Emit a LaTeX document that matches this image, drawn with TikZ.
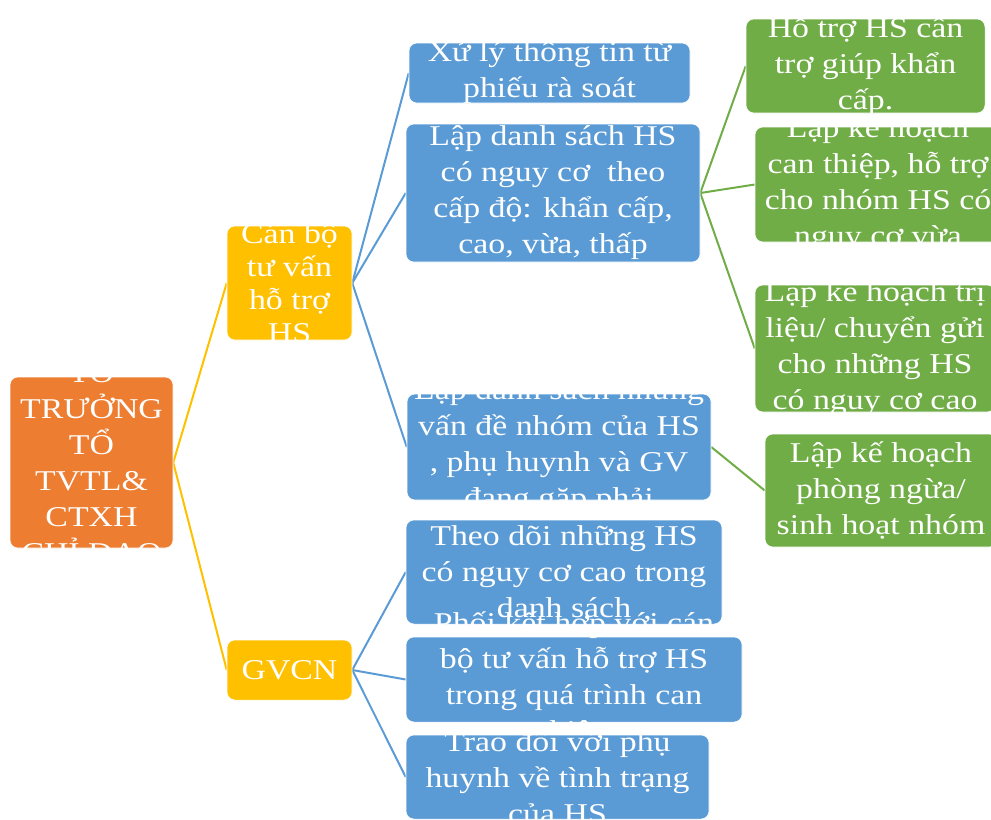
\documentclass[tikz,border=0pt]{standalone}
\usepackage{fontspec}
\setmainfont{Liberation Serif}[FakeStretch=1.18]
\usetikzlibrary{backgrounds}
\definecolor{RootOrange}{HTML}{ED7D31}
\definecolor{LeadGold}{HTML}{FFC000}
\definecolor{TaskBlue}{HTML}{5B9BD5}
\definecolor{PlanGreen}{HTML}{70AD47}

\begin{document}
\begin{tikzpicture}[
    x=0.75pt, y=-0.75pt,
    box/.style={draw=white, line width=0.4pt, rounded corners=6pt, inner sep=0pt},
    rootbox/.style={box, fill=RootOrange},
    leadbox/.style={box, fill=LeadGold},
    taskbox/.style={box, fill=TaskBlue},
    planbox/.style={box, fill=PlanGreen},
    boxtext/.style={text=white, align=center, inner sep=0pt, font=\fontsize{21.5pt}{27pt}\selectfont},
    link/.style={line width=1.5pt}
  ]
  \useasboundingbox (0,0) rectangle (991,819);

  % To truong (trai)
  \node[rootbox, minimum width=122.25pt, minimum height=128.25pt] (root) at (91.5,462.5) {};
  \node[boxtext] (root-t) at (root) {TỔ\\TRƯỞNG\\TỔ\\TVTL\&\\CTXH\\CHỈ ĐẠO};

  % Can bo tu van / GVCN
  \node[leadbox, minimum width=93.75pt, minimum height=85.5pt] (cb) at (289.5,283) {};
  \node[boxtext, font=\fontsize{21.5pt}{24.75pt}\selectfont] (cb-t) at (cb) {Cán bộ\\tư vấn\\hỗ trợ\\HS};
  \node[leadbox, minimum width=93.75pt, minimum height=45pt] (gv) at (289.5,670) {};
  \node[boxtext] (gv-t) at (gv) {GVCN};

  % Viec cua can bo tu van
  \node[taskbox, minimum width=210.75pt, minimum height=45pt] (xl) at (549.5,73) {};
  \node[boxtext] (xl-t) at (xl) {Xử lý thông tin từ\\phiếu rà soát};
  \node[taskbox, minimum width=220.5pt, minimum height=103.5pt] (lds) at (553,193) {};
  \node[boxtext] (lds-t) at (lds) {Lập danh sách HS\\có nguy cơ~ theo\\cấp độ: khẩn cấp,\\cao, vừa, thấp};
  \node[taskbox, minimum width=228pt, minimum height=79.5pt] (ldn) at (559,447) {};
  \node[boxtext] (ldn-t) at (ldn) {Lập danh sách những\\vấn đề nhóm của HS\\, phụ huynh và GV\\đang gặp phải};

  % Viec cua GVCN
  \node[taskbox, minimum width=237pt, minimum height=78pt] (td) at (564,572) {};
  \node[boxtext] (td-t) at (td) {Theo dõi những HS\\có nguy cơ cao trong\\danh sách};
  \node[taskbox, minimum width=252pt, minimum height=63.75pt] (ph) at (574,679.5) {};
  \node[boxtext] (ph-t) at (ph) {Phối kết hợp với cán\\bộ tư vấn hỗ trợ HS\\trong quá trình can\\thiệp};
  \node[taskbox, minimum width=227.25pt, minimum height=63pt] (tr) at (557.5,777) {};
  \node[boxtext] (tr-t) at (tr) {Trao đổi với phụ\\huynh về tình trạng\\của HS};

  % Ke hoach (phai)
  \node[planbox, minimum width=179.25pt, minimum height=70.5pt] (ht) at (865.5,66) {};
  \node[boxtext] (ht-t) at (ht) {Hỗ trợ HS cần\\trợ giúp khẩn\\cấp.};
  \node[planbox, minimum width=184.5pt, minimum height=86.25pt] (ct) at (878,184.5) {};
  \node[boxtext] (ct-t) at (ct) {Lập kế hoạch\\can thiệp, hỗ trợ\\cho nhóm HS có\\nguy cơ vừa};
  \node[planbox, minimum width=180pt, minimum height=95.25pt] (tl) at (875,348.5) {};
  \node[boxtext] (tl-t) at (tl) {Lập kế hoạch trị\\liệu/ chuyển gửi\\cho những HS\\có nguy cơ cao};
  \node[planbox, minimum width=174pt, minimum height=84.75pt] (pn) at (881,490.5) {};
  \node[boxtext] (pn-t) at (pn) {Lập kế hoạch\\phòng ngừa/\\sinh hoạt nhóm};

  % Duong noi
  \begin{scope}[on background layer]
    \draw[link, LeadGold] (root.east) -- (cb.west);
    \draw[link, LeadGold] (root.east) -- (gv.west);
    \draw[link, TaskBlue] (cb.east) -- (xl.west);
    \draw[link, TaskBlue] (cb.east) -- (lds.west);
    \draw[link, TaskBlue] (cb.east) -- (ldn.west);
    \draw[link, TaskBlue] (gv.east) -- (td.west);
    \draw[link, TaskBlue] (gv.east) -- (ph.west);
    \draw[link, TaskBlue] (gv.east) -- (tr.west);
    \draw[link, PlanGreen] (lds.east) -- (ht.west);
    \draw[link, PlanGreen] (lds.east) -- (ct.west);
    \draw[link, PlanGreen] (lds.east) -- (tl.west);
    \draw[link, PlanGreen] (ldn.east) -- (pn.west);
  \end{scope}
\end{tikzpicture}
\end{document}
